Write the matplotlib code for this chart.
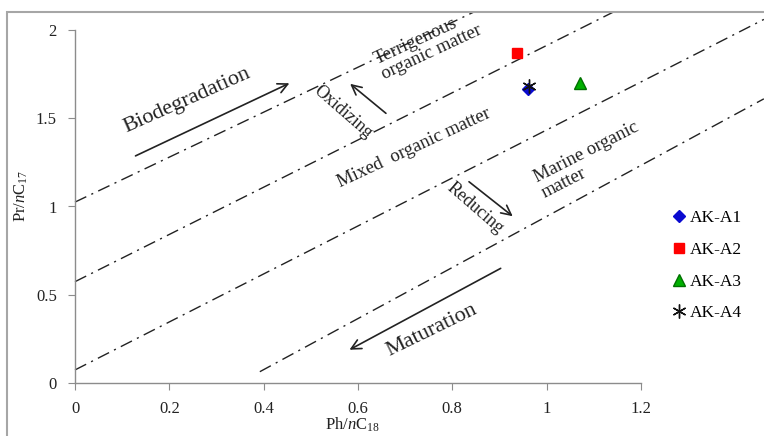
import matplotlib
matplotlib.use("Agg")
import matplotlib.pyplot as plt
from matplotlib.patches import Rectangle

plt.rcParams["font.family"] = ["Liberation Serif", "DejaVu Serif"]
plt.rcParams["mathtext.fontset"] = "custom"
plt.rcParams["mathtext.rm"] = "Liberation Serif"
plt.rcParams["mathtext.it"] = "Liberation Serif:italic"

# samples (Ph/nC18, Pr/nC17)
samples = ["AK-A1", "AK-A2", "AK-A3", "AK-A4"]
ph_c18 = [0.961, 0.937, 1.071, 0.963]
pr_c17 = [1.664, 1.871, 1.700, 1.683]

# dash-dot boundary lines, endpoints in data units
line_x = [[0.0, 0.846], [0.0, 1.142], [0.0, 1.461], [0.392, 1.461]]
line_y = [[1.025, 2.102], [0.574, 2.102], [0.074, 2.060], [0.064, 1.610]]

xticks = [0, 0.2, 0.4, 0.6, 0.8, 1.0, 1.2]
xtick_labels = ["0", "0.2", "0.4", "0.6", "0.8", "1", "1.2"]
yticks = [0, 0.5, 1.0, 1.5, 2.0]
ytick_labels = ["0", "0.5", "1", "1.5", "2"]

W, H = 764, 436
fig = plt.figure(figsize=(W / 100, H / 100), dpi=100)
# axes placed so that pixel 75 -> x=0, 383 -> y=0
ax = fig.add_axes([75 / W, (H - 383) / H, (W - 75) / W, (383 - 12) / H])
ax.set_xlim(0, (W - 75) / 471.5)
ax.set_ylim(0, (383 - 12) / 176.5)

grey = "#8c8c8c"
for s in ["top", "right"]:
    ax.spines[s].set_visible(False)
ax.spines["left"].set_bounds(0, 2)
ax.spines["bottom"].set_bounds(0, 1.2)
for s in ["left", "bottom"]:
    ax.spines[s].set_color(grey)
    ax.spines[s].set_linewidth(1.0)
ax.set_xticks(xticks)
ax.set_xticklabels(xtick_labels)
ax.set_yticks(yticks)
ax.set_yticklabels(ytick_labels)
ax.tick_params(axis="both", direction="out", length=5, color=grey,
               labelsize=12, labelcolor="#222222")
ax.tick_params(axis="x", pad=8)
ax.tick_params(axis="y", pad=8)

for lx, ly in zip(line_x, line_y):
    ax.plot(lx, ly, color="#222222", lw=1.0, linestyle=(0, (9, 4, 1.5, 4)),
            clip_on=False)

markers = [
    dict(marker="D", color="#0a0ad0", ms=6.5),
    dict(marker="s", color="#ff0000", ms=7.5),
    dict(marker="^", color="#00b000", ms=8.5, mec="#007000"),
    dict(marker=(6, 2, 0), color="#111111", ms=10, mew=1.0),
]
for x, y, lab, m in zip(ph_c18, pr_c17, samples, markers):
    ax.plot([x], [y], linestyle="none", label=lab, zorder=5, **m)

arrow = dict(arrowstyle="->,head_length=0.7,head_width=0.35", color="#222222", lw=1.2)
ax.annotate("", xy=(0.460, 1.705), xytext=(0.123, 1.280), arrowprops=arrow)
ax.annotate("", xy=(0.579, 1.705), xytext=(0.664, 1.518), arrowprops=arrow)
ax.annotate("", xy=(0.933, 0.935), xytext=(0.831, 1.150), arrowprops=arrow)
ax.annotate("", xy=(0.577, 0.181), xytext=(0.908, 0.657), arrowprops=arrow)

tk = dict(ha="center", va="center", rotation_mode="anchor", color="#222222")
ax.text(0.237, 1.603, "Biodegradation", fontsize=16, rotation=24, **tk)
ax.text(0.757, 0.300, "Maturation", fontsize=16, rotation=26, **tk)
ax.text(0.568, 1.535, "Oxidizing", fontsize=13, rotation=-41, **tk)
ax.text(0.848, 0.991, "Reducing", fontsize=13, rotation=-41, **tk)
ax.text(0.719, 1.331, "Mixed  organic matter", fontsize=13.5, rotation=25, **tk)
ax.text(1.092, 1.263, "Marine organic\nmatter", fontsize=13.5, rotation=27,
        multialignment="left", linespacing=1.0, **tk)
ax.text(0.749, 1.915, "Terrigenous\norganic matter", fontsize=13.5, rotation=25,
        multialignment="left", linespacing=1.0, **tk)

fig.text(21 / W, 1 - 196 / H, r"Pr/$n$C$_{17}$", rotation=90, ha="center",
         va="center", fontsize=12, color="#222222")
fig.text(352 / W, 1 - 425 / H, r"Ph/$n$C$_{18}$", ha="center", va="center",
         fontsize=12, color="#222222")

fig.legend(loc="upper left", bbox_to_anchor=(672 / W, 1 - 210 / H),
           frameon=False, fontsize=12.5, handlelength=0.8, handletextpad=0.2,
           labelspacing=0.9, borderpad=0, borderaxespad=0)

fig.patches.append(Rectangle((7 / W, -0.1), 1.2, 1 - 12 / H + 0.1,
                             transform=fig.transFigure, fill=False,
                             edgecolor="#a6a6a6", lw=1.5))

fig.savefig("out.png", dpi=100)
